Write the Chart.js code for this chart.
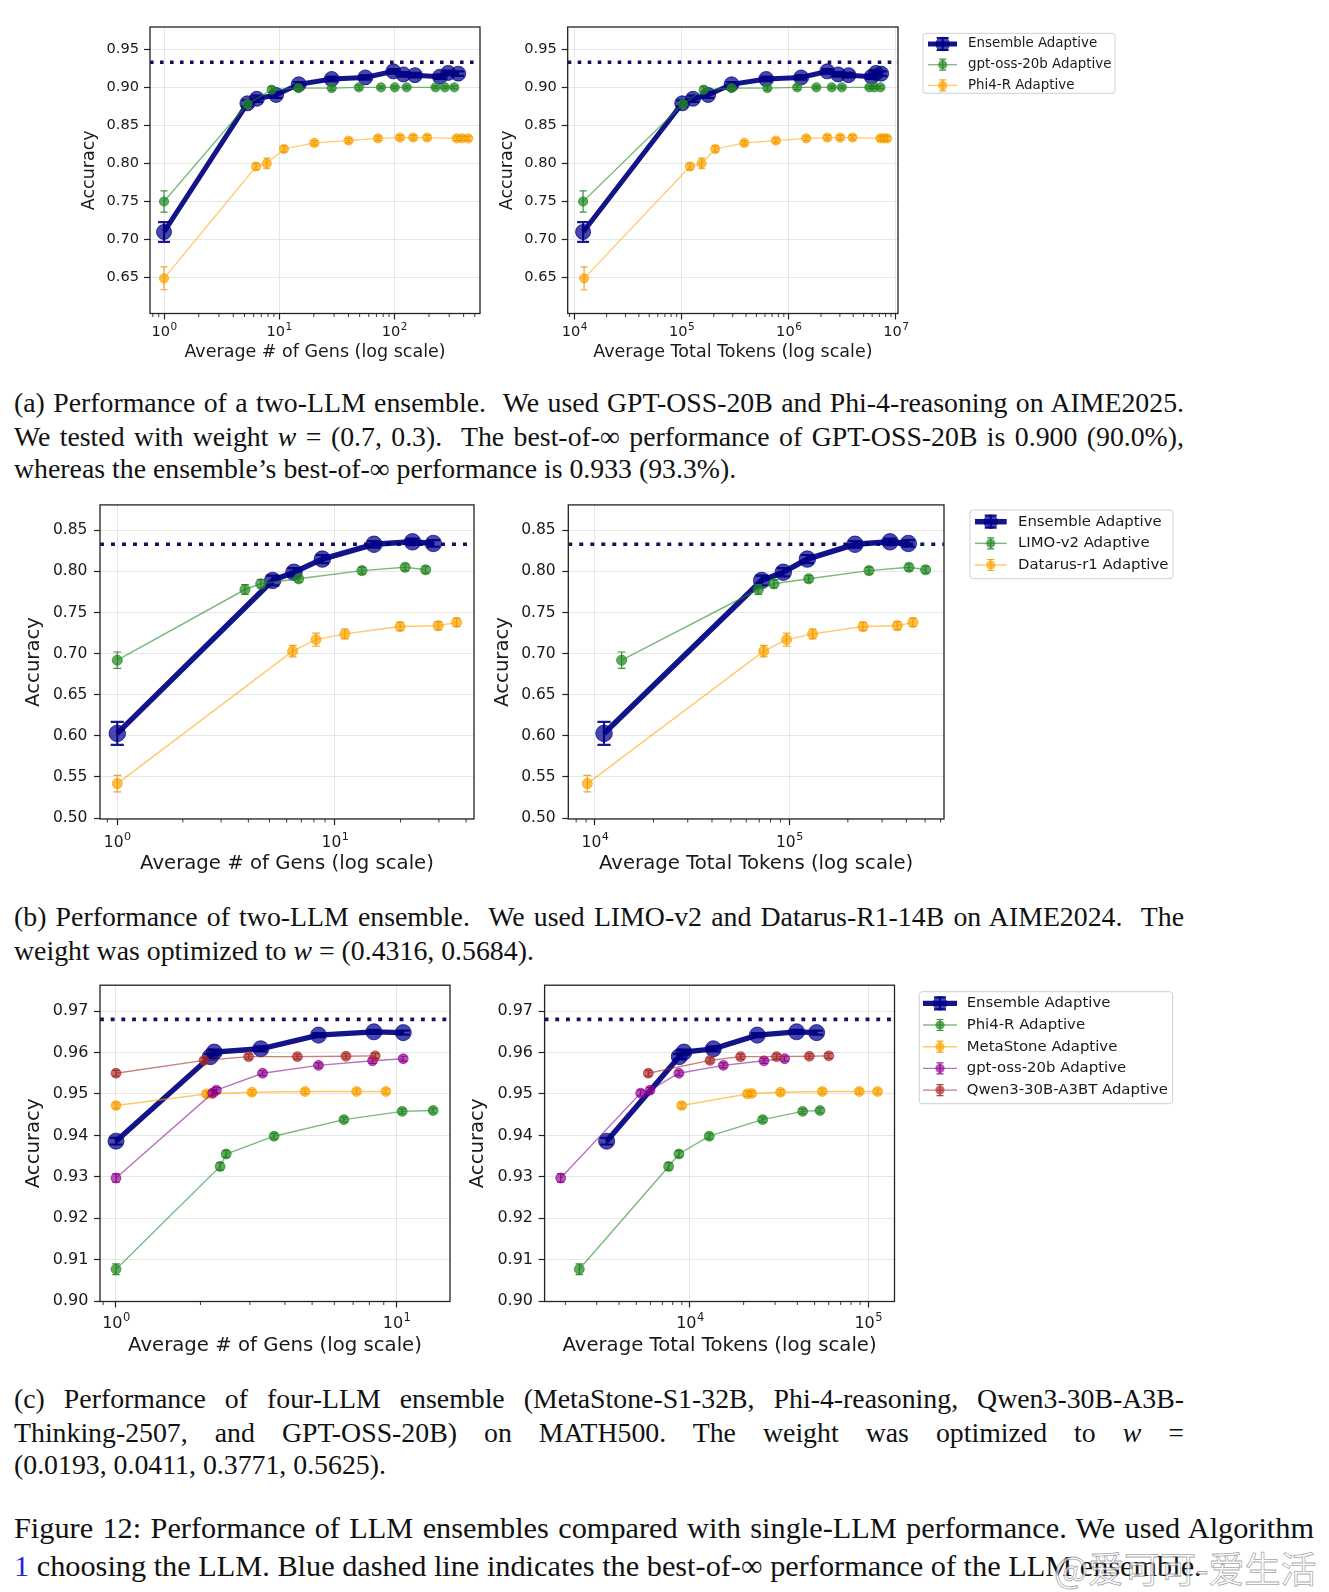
<!DOCTYPE html>
<html>
<head>
<meta charset="utf-8">
<script src="https://cdn.jsdelivr.net/npm/chart.js@4.4.1/dist/chart.umd.min.js"></script>
<style>
  body { margin: 0; background: #fff; width: 1329px; height: 1592px; position: relative; overflow: hidden; }
  .cap { position: absolute; left: 14px; font-family: 'Liberation Serif', 'Times New Roman', serif; color: #111; white-space: nowrap; }
  .sub { font-size: 27.8px; line-height: 33px; height: 33px; }
  .fig { font-size: 30.3px; line-height: 38px; height: 38px; }
  .just { text-align: justify; text-align-last: justify; white-space: normal; overflow: hidden; }
  .link { color: #2222dd; }
  .wm { position: absolute; left: 1054px; top: 1541px; font-family: 'Noto Sans CJK SC', sans-serif; font-size: 36px; line-height: 52px;
        color: rgba(255,255,255,0.7); -webkit-text-stroke: 0.8px rgba(90,90,90,0.55); white-space: nowrap; }
</style>
</head>
<body>

<div class="cap sub just" style="top:386px;width:1170px">(a) Performance of a two-LLM ensemble. &nbsp;We used GPT-OSS-20B and Phi-4-reasoning on AIME2025.</div>
<div class="cap sub just" style="top:420px;width:1170px">We tested with weight <i>w</i> = (0.7, 0.3). &nbsp;The best-of-∞ performance of GPT-OSS-20B is 0.900 (90.0%),</div>
<div class="cap sub" style="top:452px">whereas the ensemble’s best-of-∞ performance is 0.933 (93.3%).</div>

<div class="cap sub just" style="top:900px;width:1170px">(b) Performance of two-LLM ensemble. &nbsp;We used LIMO-v2 and Datarus-R1-14B on AIME2024. &nbsp;The</div>
<div class="cap sub" style="top:934px">weight was optimized to <i>w</i> = (0.4316, 0.5684).</div>

<div class="cap sub just" style="top:1382px;width:1170px">(c) Performance of four-LLM ensemble (MetaStone-S1-32B, Phi-4-reasoning, Qwen3-30B-A3B-</div>
<div class="cap sub just" style="top:1416px;width:1170px">Thinking-2507, and GPT-OSS-20B) on MATH500. The weight was optimized to <i>w</i> =</div>
<div class="cap sub" style="top:1448px">(0.0193, 0.0411, 0.3771, 0.5625).</div>

<div class="cap fig just" style="top:1509px;width:1300px">Figure 12: Performance of LLM ensembles compared with single-LLM performance. We used Algorithm</div>
<div class="cap fig" style="top:1547px"><span class="link">1</span> choosing the LLM. Blue dashed line indicates the best-of-∞ performance of the LLM ensemble.</div>
<div class="wm">@爱可可-爱生活</div>

<script>
// ---- (a) AIME2025: gpt-oss-20b + Phi4-R ----
const aYTicks = [0.65, 0.70, 0.75, 0.80, 0.85, 0.90, 0.95];
const aGenTicks = [1, 10, 100];
const aTokTicks = [1e4, 1e5, 1e6, 1e7];
const aBest = 0.933;

const aGensEns = [1, 5.3, 6.4, 9.4, 14.8, 28.6, 56, 98, 120, 151, 249, 294, 359];
const aTokEns  = [12070, 101500, 128000, 177000, 293000, 616000, 1306000, 2290000, 2890000, 3610000, 5940000, 6530000, 7280000];
const aAccEns  = [0.710, 0.879, 0.885, 0.890, 0.904, 0.911, 0.913, 0.921, 0.917, 0.916, 0.914, 0.919, 0.918];
const aErrEns  = [0.013, 0.004, 0.004, 0.004, 0.003, 0.003, 0.003, 0.003, 0.003, 0.003, 0.003, 0.003, 0.003];

const aGensGpt = [1, 5.3, 8.6, 14.7, 28.6, 49.3, 76.6, 101, 128, 228, 275, 332];
const aTokGpt  = [12070, 103000, 161000, 293000, 632000, 1200000, 1810000, 2520000, 3130000, 5650000, 6300000, 7170000];
const aAccGpt  = [0.750, 0.878, 0.897, 0.899, 0.899, 0.900, 0.900, 0.900, 0.900, 0.900, 0.900, 0.900];
const aErrGpt  = [0.014, 0.004, 0.004, 0.003, 0.003, 0.003, 0.002, 0.002, 0.002, 0.002, 0.002, 0.002];

const aGensPhi = [1, 6.3, 7.8, 11.0, 20.2, 40.1, 72.1, 112, 146, 193, 348, 387, 439];
const aTokPhi  = [12330, 119800, 154000, 206000, 385000, 760000, 1456000, 2290000, 3020000, 3940000, 7170000, 7710000, 8280000];
const aAccPhi  = [0.649, 0.796, 0.800, 0.819, 0.827, 0.830, 0.833, 0.834, 0.834, 0.834, 0.833, 0.833, 0.833];
const aErrPhi  = [0.015, 0.004, 0.007, 0.004, 0.003, 0.003, 0.003, 0.003, 0.003, 0.003, 0.003, 0.003, 0.003];

// ---- (b) AIME2024: LIMO-v2 + Datarus-r1 ----
const bYTicks = [0.50, 0.55, 0.60, 0.65, 0.70, 0.75, 0.80, 0.85];
const bGenTicks = [1, 10];
const bTokTicks = [1e4, 1e5];
const bBest = 0.833;

const bGensEns = [1, 5.17, 6.48, 8.75, 15.1, 22.7, 28.3];
const bTokEns  = [11130, 72050, 93100, 123800, 217800, 329600, 409500];
const bAccEns  = [0.603, 0.789, 0.799, 0.815, 0.833, 0.836, 0.834];
const bErrEns  = [0.014, 0.006, 0.005, 0.005, 0.004, 0.004, 0.004];

const bGensLimo = [1, 3.86, 4.56, 6.81, 13.3, 21.0, 26.1];
const bTokLimo  = [13710, 69260, 83360, 125800, 257000, 412800, 502900];
const bAccLimo  = [0.692, 0.778, 0.785, 0.791, 0.801, 0.805, 0.802];
const bErrLimo  = [0.010, 0.006, 0.005, 0.004, 0.004, 0.004, 0.004];

const bGensDat = [1, 6.39, 8.18, 11.1, 19.9, 29.8, 36.2];
const bTokDat  = [9130, 73800, 96800, 131800, 239300, 359500, 432700];
const bAccDat  = [0.542, 0.703, 0.717, 0.724, 0.733, 0.734, 0.738];
const bErrDat  = [0.010, 0.007, 0.008, 0.006, 0.005, 0.005, 0.005];

// ---- (c) MATH500: four-LLM ensemble ----
const cYTicks = [0.90, 0.91, 0.92, 0.93, 0.94, 0.95, 0.96, 0.97];
const cGenTicks = [1, 10];
const cTokTicks = [1e4, 1e5];
const cBest = 0.968;

const cGensEns = [1, 2.17, 2.24, 3.28, 5.27, 8.30, 10.56];
const cTokEns  = [3410, 8710, 9250, 13520, 23860, 39630, 51290];
const cAccEns  = [0.9386, 0.9590, 0.9601, 0.9609, 0.9642, 0.9650, 0.9648];
const cErrEns  = [0.0008, 0.0006, 0.0006, 0.0006, 0.0005, 0.0005, 0.0005];

const cGensPhi = [1, 2.35, 2.47, 3.66, 6.49, 10.47, 13.5];
const cTokPhi  = [2395, 7590, 8670, 12830, 25560, 42850, 53600];
const cAccPhi  = [0.9077, 0.9325, 0.9355, 0.9398, 0.9438, 0.9458, 0.9460];
const cErrPhi  = [0.0013, 0.0009, 0.0008, 0.0007, 0.0006, 0.0006, 0.0006];

const cGensMeta = [1, 2.1, 2.2, 3.05, 4.72, 7.20, 9.16];
const cTokMeta  = [8980, 20970, 22170, 32200, 55200, 89000, 112700];
const cAccMeta  = [0.9472, 0.9500, 0.9501, 0.9504, 0.9506, 0.9506, 0.9506];
const cErrMeta  = [0.0007, 0.0006, 0.0006, 0.0006, 0.0006, 0.0006, 0.0006];

const cGensGpt = [1, 2.21, 2.28, 3.33, 5.27, 8.21, 10.56];
const cTokGpt  = [1883, 5290, 5970, 8670, 15390, 26000, 33970];
const cAccGpt  = [0.9297, 0.9502, 0.9509, 0.9550, 0.9569, 0.9580, 0.9585];
const cErrGpt  = [0.0010, 0.0007, 0.0007, 0.0006, 0.0006, 0.0006, 0.0006];

const cGensQwen = [1, 2.06, 2.97, 4.43, 6.60, 8.39];
const cTokQwen  = [5840, 12950, 19230, 30600, 46700, 60100];
const cAccQwen  = [0.9550, 0.9581, 0.9590, 0.9590, 0.9591, 0.9592];
const cErrQwen  = [0.0007, 0.0006, 0.0006, 0.0006, 0.0006, 0.0006];

const FONT = "'DejaVu Sans', sans-serif";
const TXT = '#1a1a1a';
const GRID = '#e6e6e6';
const BEST = '#12125e';

// estilos de las series
const ENS    = { line: 'rgba(0,0,128,0.92)', fill: 'rgba(0,0,140,0.72)', err: 'rgba(0,0,128,0.9)', lw: 5, r: 7.5, ew: 2.2, cap: 6, big: true };
const GREEN  = { line: 'rgba(34,139,34,0.6)', fill: 'rgba(34,139,34,0.72)', err: 'rgba(30,125,30,0.85)', lw: 1.3, r: 4.6, ew: 1.2, cap: 3.5 };
const ORANGE = { line: 'rgba(255,165,0,0.6)', fill: 'rgba(255,165,0,0.72)', err: 'rgba(235,150,0,0.85)', lw: 1.3, r: 4.6, ew: 1.2, cap: 3.5 };
const PURPLE = { line: 'rgba(128,0,128,0.55)', fill: 'rgba(150,0,150,0.68)', err: 'rgba(128,0,128,0.85)', lw: 1.3, r: 4.6, ew: 1.2, cap: 3.5 };
const RED    = { line: 'rgba(165,42,42,0.6)', fill: 'rgba(175,45,40,0.7)', err: 'rgba(150,40,40,0.85)', lw: 1.3, r: 4.6, ew: 1.2, cap: 3.5 };

const SUP = { '0': '⁰', '1': '¹', '2': '²', '3': '³', '4': '⁴', '5': '⁵', '6': '⁶', '7': '⁷', '8': '⁸', '9': '⁹' };
function powLabel(v) {
  const e = Math.round(Math.log10(v));
  return '10' + String(e).split('').map(c => SUP[c]).join('');
}

function logTicks(majors, min, max) {
  const out = [];
  const e0 = Math.floor(Math.log10(min)), e1 = Math.ceil(Math.log10(max));
  for (let e = e0; e <= e1; e++) {
    for (let k = 1; k < 10; k++) {
      const v = k * Math.pow(10, e);
      if (v >= min && v <= max) out.push({ value: v, major: majors.includes(v) });
    }
  }
  return out;
}

// barras de error dibujadas con las escalas del gráfico
const errorBars = {
  id: 'errorBars',
  afterDatasetDraw(chart, args) {
    const ds = chart.data.datasets[args.index];
    if (!ds.errors) return;
    const { ctx, scales: { x, y } } = chart;
    ctx.save();
    ctx.strokeStyle = ds.errColor;
    ctx.lineWidth = ds.errWidth;
    ds.data.forEach((pt, i) => {
      const e = ds.errors[i];
      const px = x.getPixelForValue(pt.x);
      const y1 = y.getPixelForValue(pt.y - e);
      const y2 = y.getPixelForValue(pt.y + e);
      ctx.beginPath();
      ctx.moveTo(px, y1); ctx.lineTo(px, y2);
      ctx.moveTo(px - ds.capHalf, y1); ctx.lineTo(px + ds.capHalf, y1);
      ctx.moveTo(px - ds.capHalf, y2); ctx.lineTo(px + ds.capHalf, y2);
      ctx.stroke();
    });
    ctx.restore();
  }
};

// marco completo + ticks menores del eje log
const frame = {
  id: 'frame',
  afterDatasetsDraw(chart) {
    const { ctx, chartArea: a } = chart;
    const xs = chart.scales.x;
    ctx.save();
    ctx.strokeStyle = '#222';
    ctx.lineWidth = 0.9;
    xs.ticks.forEach(t => {
      if (t.major) return;
      const px = xs.getPixelForValue(t.value);
      ctx.beginPath();
      ctx.moveTo(px, a.bottom);
      ctx.lineTo(px, a.bottom + 3.5);
      ctx.stroke();
    });
    ctx.lineWidth = 1.3;
    ctx.strokeRect(a.left, a.top, a.right - a.left, a.bottom - a.top);
    ctx.restore();
  }
};

// etiquetas 10^n con exponente elevado (como mathtext)
const powLabels = {
  id: 'powLabels',
  afterDraw(chart, args, o) {
    if (!o || !o.size) return;
    const { ctx, chartArea: a } = chart;
    const xs = chart.scales.x;
    const S = o.size, s = S * 0.72;
    const base = a.bottom + o.offset + S * 0.37;
    ctx.save();
    ctx.fillStyle = TXT;
    ctx.textBaseline = 'alphabetic';
    ctx.textAlign = 'left';
    xs.ticks.forEach(t => {
      if (!t.major) return;
      const e = String(Math.round(Math.log10(t.value)));
      ctx.font = S + 'px ' + FONT;
      const w1 = ctx.measureText('10').width;
      ctx.font = s + 'px ' + FONT;
      const w2 = ctx.measureText(e).width;
      const x0 = xs.getPixelForValue(t.value) - (w1 + w2) / 2;
      ctx.font = S + 'px ' + FONT;
      ctx.fillText('10', x0, base);
      ctx.font = s + 'px ' + FONT;
      ctx.fillText(e, x0 + w1 + 0.5, base - S * 0.42);
    });
    ctx.restore();
  }
};

// leyenda con caja, estilo matplotlib
const boxLegend = {
  id: 'boxLegend',
  afterDraw(chart, args, o) {
    if (!o || !o.box) return;
    const ctx = chart.ctx;
    ctx.save();
    ctx.beginPath();
    ctx.roundRect(o.box.x, o.box.y, o.box.w, o.box.h, 3);
    ctx.fillStyle = 'rgba(255,255,255,0.85)';
    ctx.fill();
    ctx.strokeStyle = '#cfcfcf';
    ctx.lineWidth = 1;
    ctx.stroke();
    let k = 0;
    chart.data.datasets.forEach(ds => {
      if (!ds.errors) return;
      const cy = o.row0 + k * o.rowGap;
      k++;
      ctx.strokeStyle = ds.borderColor;
      ctx.lineWidth = ds.borderWidth;
      ctx.beginPath(); ctx.moveTo(o.line0, cy); ctx.lineTo(o.line1, cy); ctx.stroke();
      const eh = ds.big ? 6 : 5.5, cap = ds.big ? 6 : 3.5;
      ctx.strokeStyle = ds.errColor;
      ctx.lineWidth = ds.errWidth;
      ctx.beginPath();
      ctx.moveTo(o.mark, cy - eh); ctx.lineTo(o.mark, cy + eh);
      ctx.moveTo(o.mark - cap, cy - eh); ctx.lineTo(o.mark + cap, cy - eh);
      ctx.moveTo(o.mark - cap, cy + eh); ctx.lineTo(o.mark + cap, cy + eh);
      ctx.stroke();
      ctx.beginPath();
      ctx.arc(o.mark, cy, ds.big ? 7.3 : 4.6, 0, Math.PI * 2);
      ctx.fillStyle = ds.pointBackgroundColor;
      ctx.fill();
      ctx.fillStyle = TXT;
      ctx.font = o.size + 'px ' + FONT;
      ctx.textAlign = 'left';
      ctx.textBaseline = 'middle';
      ctx.fillText(ds.label, o.text, cy);
    });
    ctx.restore();
  }
};

function series(label, xs, ys, errs, st, mk, order) {
  return {
    label,
    data: xs.map((x, i) => ({ x, y: ys[i] })),
    errors: errs,
    showLine: true,
    tension: 0,
    borderColor: st.line,
    borderWidth: st.lw * mk,
    pointRadius: st.r * mk,
    pointBackgroundColor: st.fill,
    pointBorderColor: st.fill,
    pointBorderWidth: 1,
    errColor: st.err,
    errWidth: st.ew,
    capHalf: st.cap * mk,
    big: !!st.big,
    order
  };
}

function makePanel(p) {
  const lineH = p.titleSize * 1.2;
  const left = Math.round(p.yTitleX - lineH / 2);
  const top = Math.round(p.frame.t - 14);
  const width = Math.round(p.frame.r + p.padRight - left);
  const height = Math.round(p.xTitleY + lineH / 2 - top);
  const yAxisW = p.frame.l - left;
  const xAxisH = top + height - p.frame.b;
  const padT = p.frame.t - top;
  const padR = left + width - p.frame.r;
  const xPad = p.xLabelY - p.frame.b - 6 - p.tickSize * 0.6;

  const canvas = document.createElement('canvas');
  canvas.width = width;
  canvas.height = height;
  canvas.style.cssText = `position:absolute;left:${left}px;top:${top}px;width:${width}px;height:${height}px`;
  document.body.appendChild(canvas);

  const n = p.series.length;
  const datasets = p.series.map((s, i) => series(s.label, s.x, s.y, s.err, s.style, p.mk, n - i));
  datasets.push({
    data: [{ x: p.xMin, y: p.best }, { x: p.xMax, y: p.best }],
    showLine: true,
    borderColor: BEST,
    borderWidth: 3.3 * p.mk,
    borderDash: [3.6 * p.mk, 6.4 * p.mk],
    borderCapStyle: 'butt',
    pointRadius: 0,
    order: 100
  });

  let legend = {};
  if (p.legend) {
    const L = p.legend;
    legend = {
      box: { x: L.x - left, y: L.y - top, w: L.w, h: L.h },
      line0: L.line0 - left, line1: L.line1 - left, mark: L.mark - left,
      text: L.text - left, row0: L.row0 - top, rowGap: L.rowGap, size: L.size
    };
  }

  new Chart(canvas, {
    type: 'scatter',
    data: { datasets },
    plugins: [errorBars, frame, powLabels, boxLegend],
    options: {
      responsive: false,
      animation: false,
      events: [],
      layout: { padding: { left: 0, top: padT, right: padR, bottom: 0 } },
      plugins: {
        legend: { display: false },
        tooltip: { enabled: false },
        boxLegend: legend,
        powLabels: { size: p.tickSize, offset: p.xLabelY - p.frame.b }
      },
      scales: {
        x: {
          type: 'logarithmic',
          min: p.xMin,
          max: p.xMax,
          afterBuildTicks: s => { s.ticks = logTicks(p.xMajors, p.xMin, p.xMax); },
          afterFit: s => { s.height = xAxisH; },
          border: { display: false },
          grid: {
            color: c => (c.tick && c.tick.major) ? GRID : 'transparent',
            tickColor: c => (c.tick && c.tick.major) ? '#222' : 'transparent',
            tickLength: 6,
            tickWidth: 1.2,
            lineWidth: 1
          },
          ticks: {
            autoSkip: false, maxRotation: 0, minRotation: 0,
            padding: xPad, color: 'transparent',
            font: { family: FONT, size: p.tickSize },
            callback: (v, i, ticks) => ticks[i].major ? powLabel(v) : ''
          },
          title: { display: true, text: p.xTitle, color: TXT, padding: 0, font: { family: FONT, size: p.titleSize, lineHeight: 1.2 } }
        },
        y: {
          type: 'linear',
          min: p.yMin,
          max: p.yMax,
          afterBuildTicks: s => { s.ticks = p.yTicks.map(v => ({ value: v })); },
          afterFit: s => { s.width = yAxisW; },
          border: { display: false },
          grid: { color: GRID, tickColor: '#222', tickLength: 6, tickWidth: 1.2, lineWidth: 1 },
          ticks: {
            padding: p.yPad, color: TXT,
            font: { family: FONT, size: p.tickSize },
            callback: v => v.toFixed(2)
          },
          title: { display: true, text: 'Accuracy', color: TXT, padding: 0, font: { family: FONT, size: p.titleSize, lineHeight: 1.2 } }
        }
      }
    }
  });
}

const GENS = 'Average # of Gens (log scale)';
const TOKS = 'Average Total Tokens (log scale)';

// (a)
const aSeriesGens = [
  { label: 'Ensemble Adaptive', x: aGensEns, y: aAccEns, err: aErrEns, style: ENS },
  { label: 'gpt-oss-20b Adaptive', x: aGensGpt, y: aAccGpt, err: aErrGpt, style: GREEN },
  { label: 'Phi4-R Adaptive', x: aGensPhi, y: aAccPhi, err: aErrPhi, style: ORANGE }
];
const aSeriesToks = [
  { label: 'Ensemble Adaptive', x: aTokEns, y: aAccEns, err: aErrEns, style: ENS },
  { label: 'gpt-oss-20b Adaptive', x: aTokGpt, y: aAccGpt, err: aErrGpt, style: GREEN },
  { label: 'Phi4-R Adaptive', x: aTokPhi, y: aAccPhi, err: aErrPhi, style: ORANGE }
];
const aCommon = { yMin: 0.6028, yMax: 0.9793, yTicks: aYTicks, best: aBest, titleSize: 17.5, tickSize: 14.6,
                  xTitleY: 352.3, xLabelY: 331, yPad: 5, mk: 1 };
makePanel(Object.assign({}, aCommon, {
  frame: { l: 150, t: 27, r: 480, b: 313.5 }, yTitleX: 89.4, padRight: 14,
  xMin: 0.7556, xMax: 555, xMajors: aGenTicks, xTitle: GENS, series: aSeriesGens
}));
makePanel(Object.assign({}, aCommon, {
  frame: { l: 567.7, t: 27, r: 898, b: 313.5 }, yTitleX: 507.6, padRight: 227,
  xMin: 8670, xMax: 1.046e7, xMajors: aTokTicks, xTitle: TOKS, series: aSeriesToks,
  legend: { x: 923, y: 33.3, w: 192, h: 60, line0: 928, line1: 957, mark: 942.7, text: 968, row0: 44, rowGap: 20.7, size: 13.4 }
}));

// (b)
const bSeriesGens = [
  { label: 'Ensemble Adaptive', x: bGensEns, y: bAccEns, err: bErrEns, style: ENS },
  { label: 'LIMO-v2 Adaptive', x: bGensLimo, y: bAccLimo, err: bErrLimo, style: GREEN },
  { label: 'Datarus-r1 Adaptive', x: bGensDat, y: bAccDat, err: bErrDat, style: ORANGE }
];
const bSeriesToks = [
  { label: 'Ensemble Adaptive', x: bTokEns, y: bAccEns, err: bErrEns, style: ENS },
  { label: 'LIMO-v2 Adaptive', x: bTokLimo, y: bAccLimo, err: bErrLimo, style: GREEN },
  { label: 'Datarus-r1 Adaptive', x: bTokDat, y: bAccDat, err: bErrDat, style: ORANGE }
];
const bCommon = { yMin: 0.4989, yMax: 0.8809, yTicks: bYTicks, best: bBest, titleSize: 19.7, tickSize: 15.5,
                  xTitleY: 864, xLabelY: 841, yPad: 6.6, mk: 1.1 };
makePanel(Object.assign({}, bCommon, {
  frame: { l: 100, t: 502.7, r: 474, b: 819 }, yTitleX: 33.5, padRight: 14,
  xMin: 0.833, xMax: 43.5, xMajors: bGenTicks, xTitle: GENS, series: bSeriesGens
}));
makePanel(Object.assign({}, bCommon, {
  frame: { l: 568.3, t: 502.7, r: 944, b: 819 }, yTitleX: 502.5, padRight: 236,
  xMin: 7289, xMax: 625000, xMajors: bTokTicks, xTitle: TOKS, series: bSeriesToks,
  legend: { x: 970, y: 510, w: 203, h: 68.7, line0: 975, line1: 1006.7, mark: 990.7, text: 1018, row0: 521.7, rowGap: 21.65, size: 14.9 }
}));

// (c)
const cSeriesGens = [
  { label: 'Ensemble Adaptive', x: cGensEns, y: cAccEns, err: cErrEns, style: ENS },
  { label: 'Phi4-R Adaptive', x: cGensPhi, y: cAccPhi, err: cErrPhi, style: GREEN },
  { label: 'MetaStone Adaptive', x: cGensMeta, y: cAccMeta, err: cErrMeta, style: ORANGE },
  { label: 'gpt-oss-20b Adaptive', x: cGensGpt, y: cAccGpt, err: cErrGpt, style: PURPLE },
  { label: 'Qwen3-30B-A3BT Adaptive', x: cGensQwen, y: cAccQwen, err: cErrQwen, style: RED }
];
const cSeriesToks = [
  { label: 'Ensemble Adaptive', x: cTokEns, y: cAccEns, err: cErrEns, style: ENS },
  { label: 'Phi4-R Adaptive', x: cTokPhi, y: cAccPhi, err: cErrPhi, style: GREEN },
  { label: 'MetaStone Adaptive', x: cTokMeta, y: cAccMeta, err: cErrMeta, style: ORANGE },
  { label: 'gpt-oss-20b Adaptive', x: cTokGpt, y: cAccGpt, err: cErrGpt, style: PURPLE },
  { label: 'Qwen3-30B-A3BT Adaptive', x: cTokQwen, y: cAccQwen, err: cErrQwen, style: RED }
];
const cCommon = { yMin: 0.8999, yMax: 0.97625, yTicks: cYTicks, best: cBest, titleSize: 19.7, tickSize: 16,
                  xTitleY: 1346, xLabelY: 1322, yPad: 5.6, mk: 1.07 };
makePanel(Object.assign({}, cCommon, {
  frame: { l: 100, t: 984, r: 450, b: 1301.5 }, yTitleX: 33.5, padRight: 14,
  xMin: 0.877, xMax: 15.5, xMajors: cGenTicks, xTitle: GENS, series: cSeriesGens
}));
makePanel(Object.assign({}, cCommon, {
  frame: { l: 544.6, t: 984, r: 894.5, b: 1301.5 }, yTitleX: 478.2, padRight: 286,
  xMin: 1530, xMax: 140300, xMajors: cTokTicks, xTitle: TOKS, series: cSeriesToks,
  legend: { x: 919.3, y: 991.7, w: 253.3, h: 112, line0: 923, line1: 957, mark: 940, text: 966.7, row0: 1003.3, rowGap: 21.7, size: 14.9 }
}));
</script>
</body>
</html>
